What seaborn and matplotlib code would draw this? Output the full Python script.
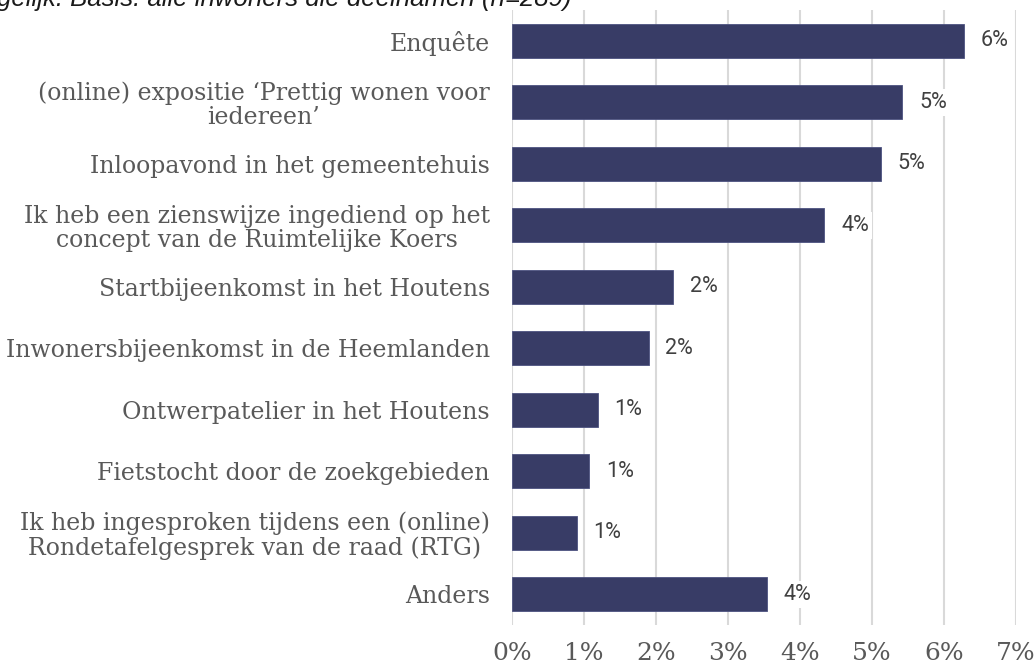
import pandas as pd
import matplotlib.pyplot as plt
import seaborn as sns

# data (percentages)
categories = [
    "Enquête",
    "(online) expositie ‘Prettig wonen voor\niedereen’",
    "Inloopavond in het gemeentehuis",
    "Ik heb een zienswijze ingediend op het\nconcept van de Ruimtelijke Koers",
    "Startbijeenkomst in het Houtens",
    "Inwonersbijeenkomst in de Heemlanden",
    "Ontwerpatelier in het Houtens",
    "Fietstocht door de zoekgebieden",
    "Ik heb ingesproken tijdens een (online)\nRondetafelgesprek van de raad (RTG)",
    "Anders",
]
values = [6.28, 5.42, 5.12, 4.34, 2.24, 1.90, 1.19, 1.07, 0.90, 3.54]
x_ticks = [0, 1, 2, 3, 4, 5, 6, 7]

df = pd.DataFrame({"categorie": categories, "percentage": values})

sns.set_style("white")
plt.rcParams["font.family"] = ["DejaVu Serif"]

fig = plt.figure(figsize=(10.36, 6.68), dpi=100)
ax = fig.add_axes([512 / 1036, 43 / 668, 504 / 1036, 615 / 668])

sns.barplot(data=df, x="percentage", y="categorie", color="#383c66",
            width=0.55, saturation=1, edgecolor="#4d5280", linewidth=0.6,
            ax=ax, zorder=3)

ax.set_xlim(0, 7)
ax.set_ylim(9.5, -0.5)
ax.set_xticks(x_ticks)
ax.set_xticklabels([f"{t}%" for t in x_ticks])
ax.grid(axis="x", color="#d9d9d9", linewidth=1.5, zorder=0)
ax.set_axisbelow(True)
for s in ax.spines.values():
    s.set_visible(False)
ax.tick_params(axis="both", length=0, labelcolor="#595959")
ax.tick_params(axis="x", pad=12, labelsize=18)
ax.tick_params(axis="y", pad=16, labelsize=17)
for lab in ax.get_yticklabels():
    lab.set_multialignment("center")
    lab.set_linespacing(1.08)
ax.set_xlabel("")
ax.set_ylabel("")

# waardelabels
labels = ax.bar_label(ax.containers[0], labels=[f"{v:.0f}%" for v in values],
                      padding=12, fontsize=15.5, color="#404040",
                      family="Roboto")
for t in labels:
    t.set_bbox(dict(facecolor="white", edgecolor="none", pad=2))

# afgesneden titel bovenaan
fig.text(-0.003, 1 - 6 / 668, "gelijk. Basis: alle inwoners die deelnamen (n=289)",
         family="Liberation Sans", style="italic", fontsize=18.5,
         color="#1a1a1a", va="baseline", ha="left")

fig.savefig("out.png", dpi=100)
